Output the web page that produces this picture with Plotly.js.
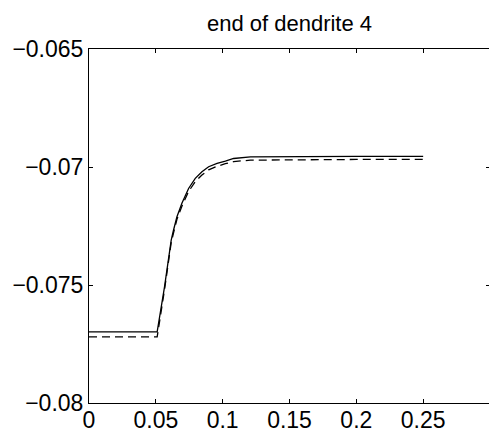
<!DOCTYPE html>
<html>
<head>
<meta charset="utf-8">
<script src="https://cdn.plot.ly/plotly-3.0.1.min.js"></script>
<style>html,body{margin:0;padding:0;background:#fff;overflow:hidden;}#chart{width:490px;height:432px;}</style>
</head>
<body>
<div id="chart"></div>
<script>
// time (s)
const tSolid = [0, 0.051, 0.0565, 0.0615, 0.0632, 0.0658, 0.0695, 0.0745, 0.0795, 0.0845, 0.0895, 0.0958, 0.1020, 0.1082, 0.1208, 0.16, 0.20, 0.25];
const vSolid = [-0.07699, -0.07699, -0.07508, -0.07310, -0.07268, -0.07211, -0.07154, -0.07091, -0.07048, -0.07020, -0.06999, -0.06985, -0.06975, -0.06964, -0.06957, -0.06955, -0.06955, -0.06955];
const tDashed = [0, 0.051, 0.0565, 0.0615, 0.0632, 0.0658, 0.0695, 0.0745, 0.0795, 0.0845, 0.0895, 0.0958, 0.1020, 0.1082, 0.1208, 0.16, 0.20, 0.25];
const vDashed = [-0.0772, -0.0772, -0.0752, -0.0732, -0.0728, -0.07222, -0.07166, -0.07104, -0.07062, -0.07034, -0.07012, -0.06997, -0.06986, -0.06977, -0.06971, -0.06968, -0.06968, -0.06968];
const xTicks = [0, 0.05, 0.1, 0.15, 0.2, 0.25];
const xTickText = ["0", "0.05", "0.1", "0.15", "0.2", "0.25"];
const yTicks = [-0.08, -0.075, -0.07, -0.065];
const yTickText = ["\u22120.08", "\u22120.075", "\u22120.07", "\u22120.065"];
const titleText = "end of dendrite 4";

const FONT = "Liberation Sans, Arial, Helvetica, sans-serif";
const traces = [
  {x: tSolid, y: vSolid, mode: "lines", line: {color: "#000", width: 1.3}, hoverinfo: "skip"},
  {x: tDashed, y: vDashed, mode: "lines", line: {color: "#000", width: 1.3, dash: "8px,5px"}, hoverinfo: "skip"}
];
const axisCommon = {
  showgrid: false, zeroline: false, showline: true, linecolor: "#000", linewidth: 1,
  mirror: "allticks", ticks: "inside", ticklen: 4, tickcolor: "#000", tickwidth: 1,
  tickfont: {family: FONT, size: 23, color: "#000"}
};
const layout = {
  width: 490, height: 432,
  margin: {l: 89, r: 0, t: 49, b: 29},
  paper_bgcolor: "#fff", plot_bgcolor: "#fff",
  showlegend: false,
  title: {text: titleText, x: 0.5, xref: "paper", y: 1, yref: "paper", yanchor: "bottom", pad: {b: 18},
          font: {family: FONT, size: 22, color: "#000"}},
  xaxis: Object.assign({}, axisCommon, {range: [0, 0.3], tickmode: "array", tickvals: xTicks, ticktext: xTickText, ticklabelstandoff: -4}),
  yaxis: Object.assign({}, axisCommon, {range: [-0.08, -0.065], tickmode: "array", tickvals: yTicks, ticktext: yTickText})
};
Plotly.newPlot("chart", traces, layout, {staticPlot: true, displayModeBar: false});
</script>
</body>
</html>
